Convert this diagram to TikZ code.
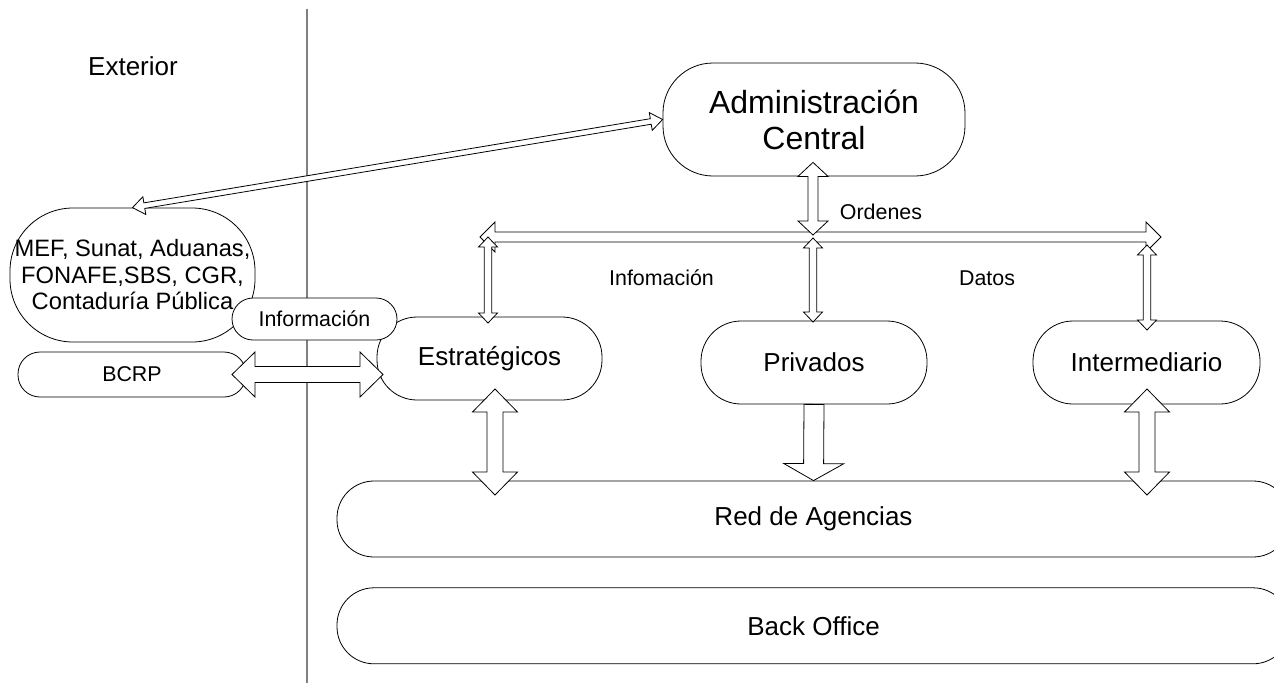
\documentclass[tikz,border=0pt]{standalone}
\usepackage{fontspec}
\setmainfont{Liberation Sans}
\usetikzlibrary{positioning, calc}
\tikzstyle{unit} = [draw, fill=white, line width=0.8pt, align=center, inner sep=0pt, font=\fontsize{26}{30}\selectfont]
\tikzstyle{lane} = [unit, minimum width=953pt, minimum height=76pt, rounded corners=37pt]
\tikzstyle{blk} = [draw, fill=white, line width=0.8pt, line join=miter]
\tikzstyle{lbl} = [inner sep=0pt, font=\fontsize{21.4}{25}\selectfont]
% block arrow with two heads: from, to, half shaft, half head, head length
\newcommand{\dblock}[5]{%
  \path ($(#1)!#5!(#2)$) coordinate (ba) ($(#2)!#5!(#1)$) coordinate (bb);
  \draw[blk] (#1) -- ($(ba)!#4!90:(#2)$) -- ($(ba)!#3!90:(#2)$) -- ($(bb)!#3!-90:(#1)$) -- ($(bb)!#4!-90:(#1)$) -- (#2) -- ($(bb)!#4!90:(#1)$) -- ($(bb)!#3!90:(#1)$) -- ($(ba)!#3!-90:(#2)$) -- ($(ba)!#4!-90:(#2)$) -- cycle;}
% block arrow with one head
\newcommand{\sblock}[5]{%
  \path ($(#2)!#5!(#1)$) coordinate (bb);
  \draw[blk] ($(#1)!#3!90:(#2)$) -- ($(bb)!#3!-90:(#1)$) -- ($(bb)!#4!-90:(#1)$) -- (#2) -- ($(bb)!#4!90:(#1)$) -- ($(bb)!#3!90:(#1)$) -- ($(#1)!#3!-90:(#2)$) -- cycle;}

\begin{document}
\begin{tikzpicture}[x=1pt, y=-1pt]
        \useasboundingbox (0,0) rectangle (1274,683);
        \clip (0,0) rectangle (1274,683);
        % frontier
        \draw [line width=1.4pt, color=black!50] (307,9) -- (307,683);
        \node (ext) [inner sep=0pt, font=\fontsize{26}{30}\selectfont] at (133,66) {Exterior};

        \node (adm) [unit, minimum width=302pt, minimum height=113pt, rounded corners=50pt, font=\fontsize{32}{36}\selectfont] at (814,119.5) {Administración\\Central};
        \node (mef) [unit, minimum width=245pt, minimum height=134pt, rounded corners=63pt, font=\fontsize{23.7}{26.5}\selectfont] at (132.5,275) {MEF, Sunat, Aduanas,\\FONAFE,SBS, CGR,\\Contaduría Pública};
        \node (bcrp) [unit, minimum width=228pt, minimum height=45pt, rounded corners=22pt, font=\fontsize{21.4}{25}\selectfont] at (132,374.5) {BCRP};
        \node (estr) [unit, minimum width=225pt, minimum height=83pt, rounded corners=40pt] at (489.5,358.5) {Estratégicos};
        \node (info) [unit, minimum width=165pt, minimum height=42pt, rounded corners=21pt, font=\fontsize{21.4}{25}\selectfont] at (314.5,319) {Información};
        \node (priv) [unit, minimum width=226pt, minimum height=83pt, rounded corners=40pt] at (814,362.5) {Privados};
        \node (inter) [unit, minimum width=227pt, minimum height=83pt, rounded corners=40pt] at (1146.5,362.5) {Intermediario};
        \node (red) [lane] at (813.5,519) {Red de Agencias};
        \node (back) [lane, below=30pt of red] {Back Office};

        \node (ordenes) [lbl] at (881,212) {Ordenes};
        \node (infomacion) [lbl] at (661.5,278) {Infomación};
        \node (datos) [lbl] at (987,278) {Datos};

        \coordinate (a1) at ($(adm.south)+(-1,-14)$);
        \coordinate (ord) at (813,235);
        \coordinate (barl) at (480,237);
        \coordinate (barr) at (1161,237);
        \coordinate (s1) at (488,237);
        \coordinate (e1) at (488,323);
        \coordinate (s2) at (813,238);
        \coordinate (p1) at (813,322);
        \coordinate (s3) at (1147,245);
        \coordinate (i1) at (1147,330);
        \coordinate (e2) at (495,389);
        \coordinate (r1) at (495,495);
        \coordinate (i2) at (1147,389);
        \coordinate (r3) at (1147,495);
        \coordinate (b1) at (232,374.5);
        \coordinate (e3) at (383,374.5);

        \dblock{mef.north}{adm.west}{2.8pt}{9pt}{12pt}
        \dblock{barl}{barr}{5pt}{15pt}{15pt}
        \dblock{s1}{e1}{3.7pt}{9.5pt}{10pt}
        \dblock{s2}{p1}{3.7pt}{9.5pt}{10pt}
        \dblock{s3}{i1}{3.7pt}{9.5pt}{10pt}
        \dblock{a1}{ord}{5pt}{15pt}{14pt}
        \dblock{e2}{r1}{8pt}{22.5pt}{23pt}
        \dblock{i2}{r3}{8pt}{22.5pt}{23pt}
        \dblock{b1}{e3}{8pt}{22.5pt}{23pt}
        \sblock{priv.south}{red.north}{10pt}{30pt}{17pt}
\end{tikzpicture}
\end{document}
